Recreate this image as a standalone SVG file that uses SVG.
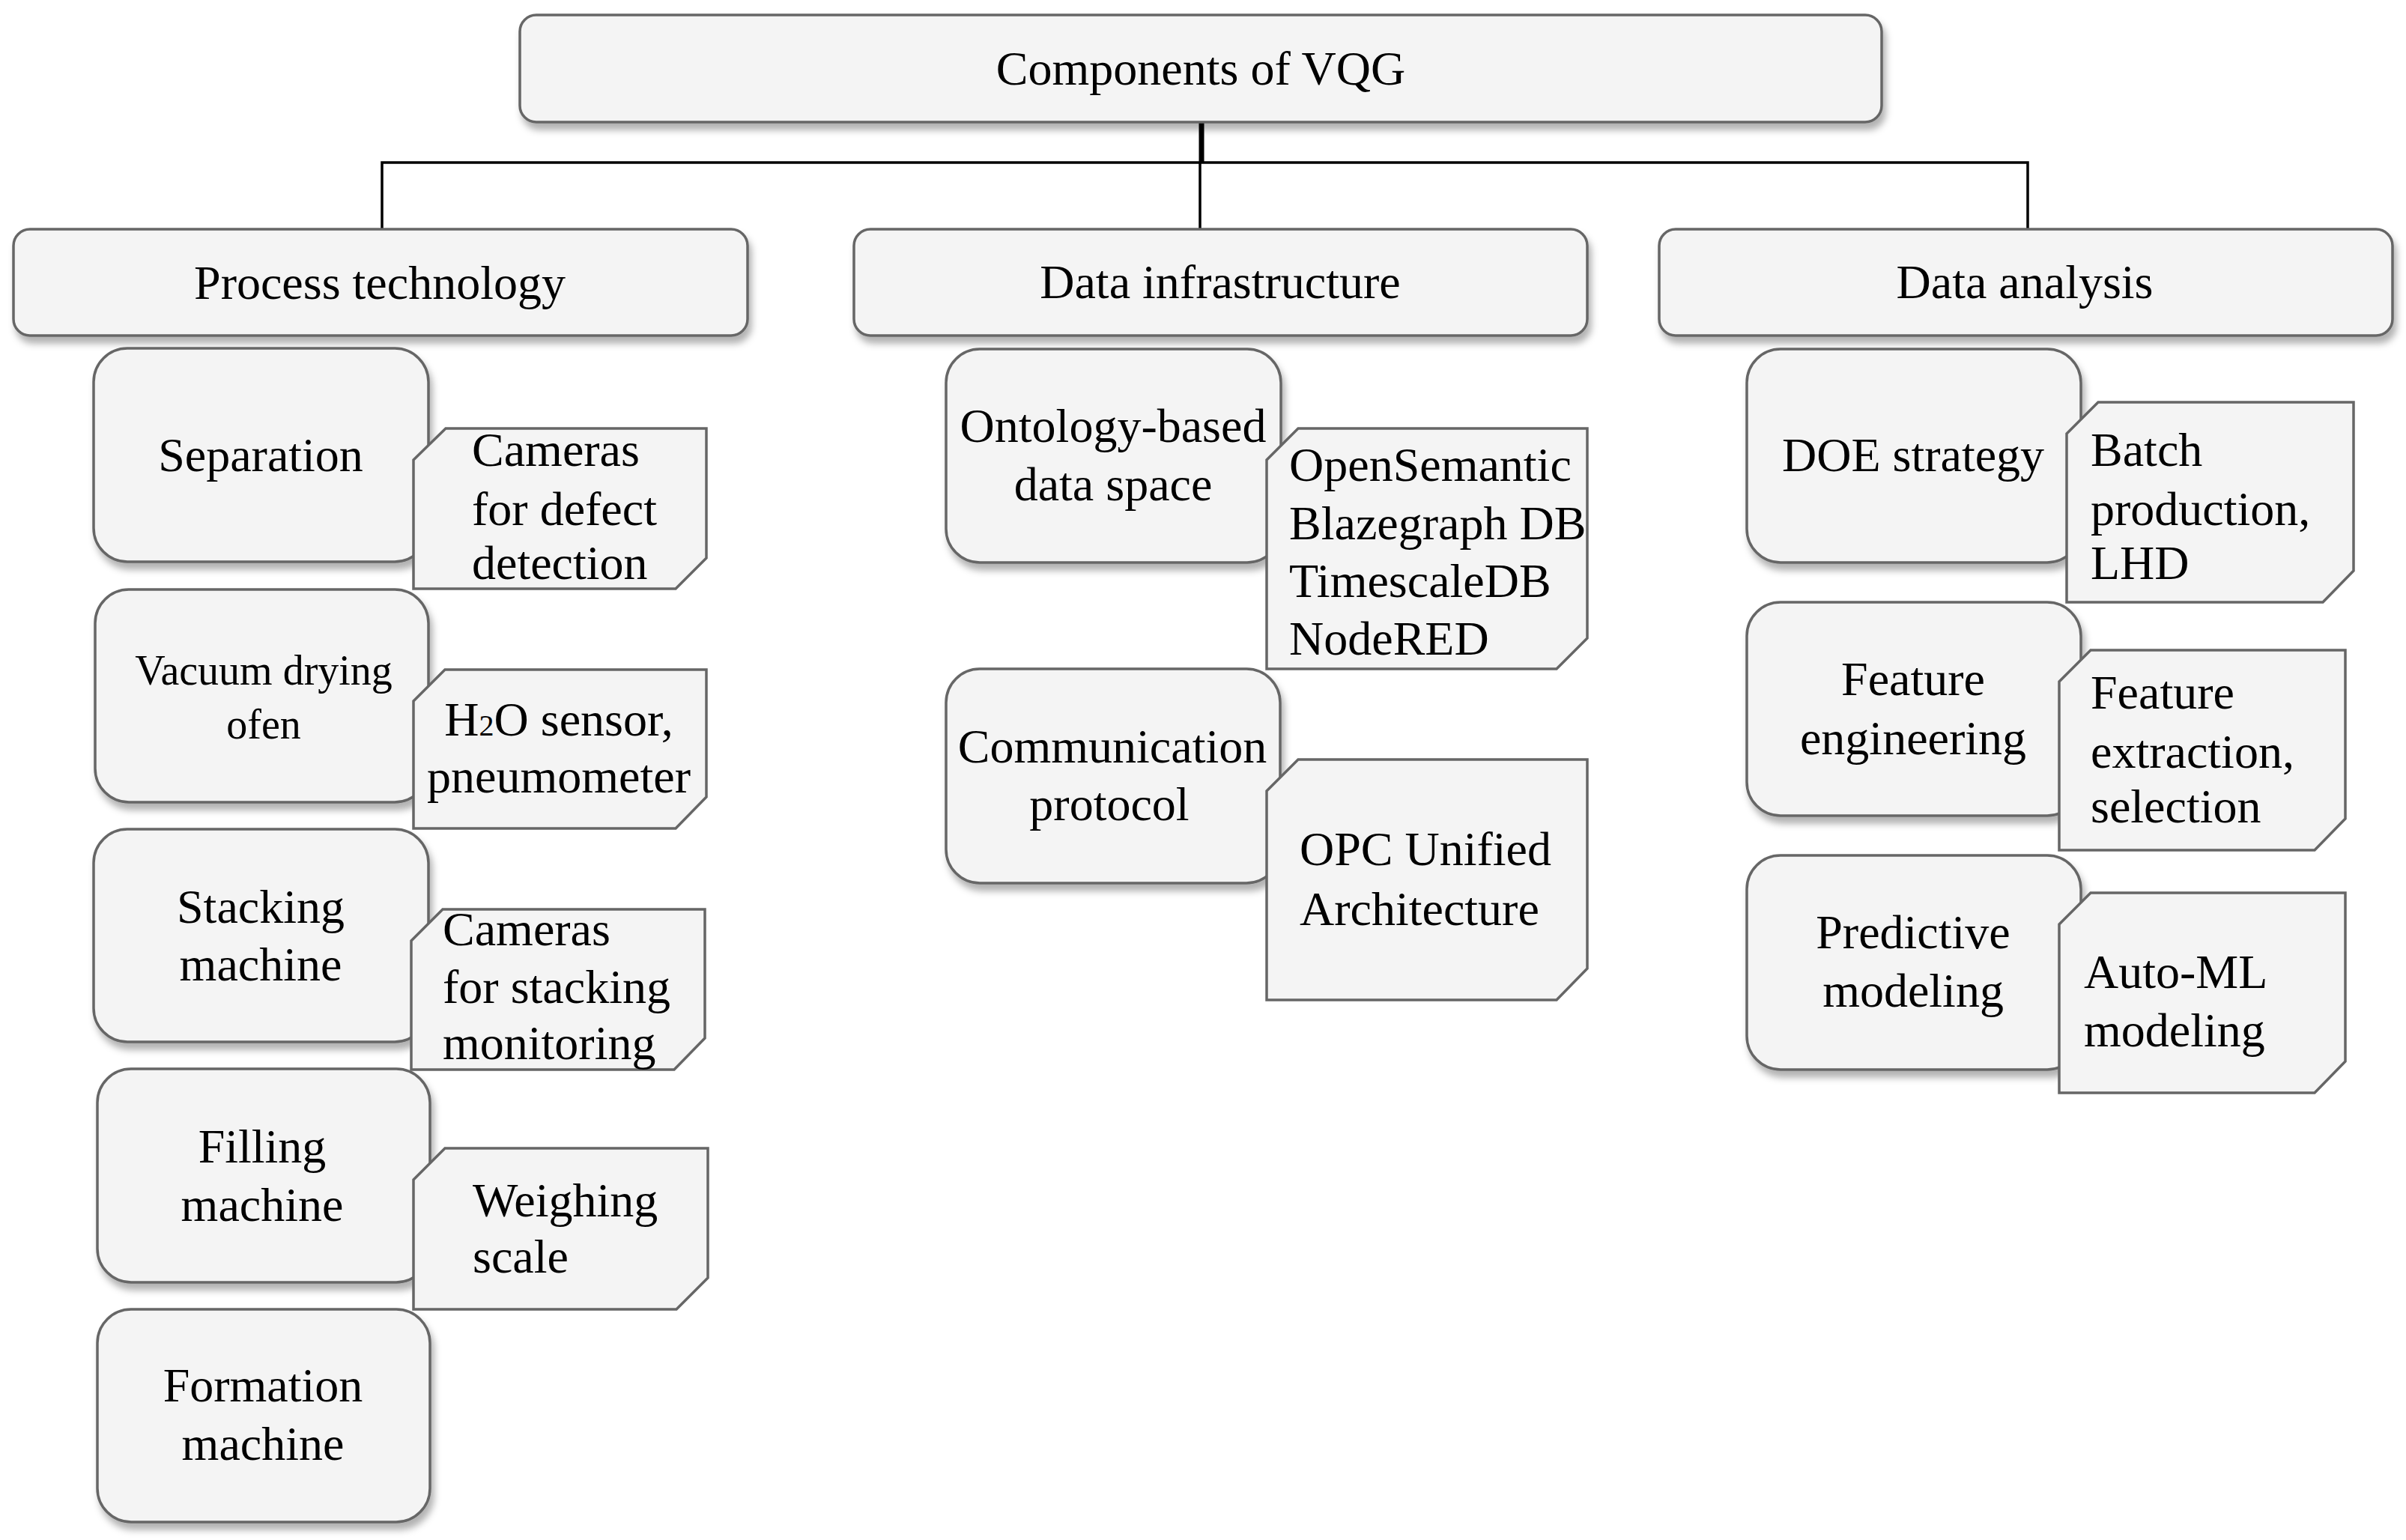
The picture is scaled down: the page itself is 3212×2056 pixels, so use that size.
<svg xmlns="http://www.w3.org/2000/svg" width="3212" height="2056" viewBox="0 0 3212 2056">
<style>
.box{fill:#f4f4f4;stroke:#666;stroke-width:3.5;filter:url(#sh)}
.note{fill:#f4f4f4;stroke:#666;stroke-width:3.5}
.t{font-family:"Liberation Serif","Times New Roman",serif;font-size:64px;fill:#000;transform:translateY(2px)}
.c{text-anchor:middle}
.conn{stroke:#000;fill:none;stroke-width:3.5}
</style>
<defs>
<filter id="sh" x="-10%" y="-10%" width="125%" height="135%">
<feDropShadow dx="4" dy="9" stdDeviation="5" flood-color="#000" flood-opacity="0.3"/>
</filter>
</defs>
<rect width="3212" height="2056" fill="#fff"/>
<g id="connectors">
<line class="conn" x1="1604" y1="163" x2="1604" y2="217" style="stroke-width:7"/>
<polyline class="conn" points="510,306 510,217 2707,217 2707,306"/>
<line class="conn" x1="1602" y1="217" x2="1602" y2="306"/>
</g>
<g id="root">
<rect class="box" x="694" y="20" width="1818" height="143" rx="22"/>
<text class="t c" x="1603" y="111">Components of VQG</text>
</g>
<g id="process-technology">
<rect class="box" x="18" y="306" width="980" height="142" rx="22"/>
<text class="t c" x="507" y="397">Process technology</text>
</g>
<g id="data-infrastructure">
<rect class="box" x="1140" y="306" width="979" height="142" rx="22"/>
<text class="t c" x="1629" y="396">Data infrastructure</text>
</g>
<g id="data-analysis">
<rect class="box" x="2215" y="306" width="979" height="142" rx="22"/>
<text class="t c" x="2703" y="396">Data analysis</text>
</g>
<g id="separation">
<rect class="box" x="125" y="465" width="447" height="285" rx="45"/>
<text class="t c" x="348" y="627">Separation</text>
</g>
<g id="separation-note">
<polygon class="note" points="595,572 943,572 943,745 902,786 552,786 552,614"/>
<text class="t" x="630" y="620">Cameras</text>
<text class="t" x="630" y="699">for defect</text>
<text class="t" x="630" y="771">detection</text>
</g>
<g id="vacuum">
<rect class="box" x="127" y="787" width="445" height="284" rx="45"/>
<text class="t c" x="352" y="912" style="font-size:56px">Vacuum drying</text>
<text class="t c" x="352" y="984" style="font-size:56px">ofen</text>
</g>
<g id="vacuum-note">
<polygon class="note" points="594,894 943,894 943,1064 902,1106 552,1106 552,936"/>
<text class="t c" x="746" y="980">H<tspan style="font-size:40px">2</tspan>O sensor,</text>
<text class="t c" x="746" y="1056">pneumometer</text>
</g>
<g id="stacking">
<rect class="box" x="125" y="1107" width="447" height="284" rx="45"/>
<text class="t c" x="348" y="1230">Stacking</text>
<text class="t c" x="348" y="1307">machine</text>
</g>
<g id="stacking-note">
<polygon class="note" points="591,1214 941,1214 941,1386 900,1428 549,1428 549,1256"/>
<text class="t" x="591" y="1260">Cameras</text>
<text class="t" x="591" y="1337">for stacking</text>
<text class="t" x="591" y="1412">monitoring</text>
</g>
<g id="filling">
<rect class="box" x="130" y="1427" width="444" height="285" rx="45"/>
<text class="t c" x="350" y="1550">Filling</text>
<text class="t c" x="350" y="1628">machine</text>
</g>
<g id="filling-note">
<polygon class="note" points="594,1533 945,1533 945,1706 903,1748 552,1748 552,1575"/>
<text class="t" x="631" y="1622">Weighing</text>
<text class="t" x="631" y="1697">scale</text>
</g>
<g id="formation">
<rect class="box" x="130" y="1748" width="444" height="284" rx="45"/>
<text class="t c" x="351" y="1869">Formation</text>
<text class="t c" x="351" y="1947">machine</text>
</g>
<g id="ontology">
<rect class="box" x="1263" y="466" width="447" height="285" rx="45"/>
<text class="t c" x="1486" y="588">Ontology-based</text>
<text class="t c" x="1486" y="666">data space</text>
</g>
<g id="ontology-note">
<polygon class="note" points="1733,572 2119,572 2119,852 2078,893 1691,893 1691,614"/>
<text class="t" x="1721" y="640">OpenSemantic</text>
<text class="t" x="1721" y="718">Blazegraph DB</text>
<text class="t" x="1721" y="795">TimescaleDB</text>
<text class="t" x="1721" y="872">NodeRED</text>
</g>
<g id="communication">
<rect class="box" x="1263" y="893" width="446" height="286" rx="45"/>
<text class="t c" x="1485" y="1016">Communication</text>
<text class="t c" x="1481" y="1093">protocol</text>
</g>
<g id="communication-note">
<polygon class="note" points="1733,1014 2119,1014 2119,1293 2078,1335 1691,1335 1691,1056"/>
<text class="t" x="1735" y="1153">OPC Unified</text>
<text class="t" x="1735" y="1233">Architecture</text>
</g>
<g id="doe">
<rect class="box" x="2332" y="466" width="446" height="285" rx="45"/>
<text class="t c" x="2554" y="627">DOE strategy</text>
</g>
<g id="doe-note">
<polygon class="note" points="2801,537 3142,537 3142,762 3101,804 2759,804 2759,579"/>
<text class="t" x="2791" y="620">Batch</text>
<text class="t" x="2791" y="699">production,</text>
<text class="t" x="2791" y="771">LHD</text>
</g>
<g id="feature">
<rect class="box" x="2332" y="804" width="446" height="285" rx="45"/>
<text class="t c" x="2554" y="926">Feature</text>
<text class="t c" x="2554" y="1005">engineering</text>
</g>
<g id="feature-note">
<polygon class="note" points="2791,868 3131,868 3131,1093 3090,1135 2749,1135 2749,910"/>
<text class="t" x="2791" y="944">Feature</text>
<text class="t" x="2791" y="1023">extraction,</text>
<text class="t" x="2791" y="1096">selection</text>
</g>
<g id="predictive">
<rect class="box" x="2332" y="1142" width="446" height="286" rx="45"/>
<text class="t c" x="2554" y="1264">Predictive</text>
<text class="t c" x="2554" y="1342">modeling</text>
</g>
<g id="predictive-note">
<polygon class="note" points="2791,1192 3131,1192 3131,1417 3090,1459 2749,1459 2749,1234"/>
<text class="t" x="2782" y="1317">Auto-ML</text>
<text class="t" x="2782" y="1395">modeling</text>
</g>
</svg>
